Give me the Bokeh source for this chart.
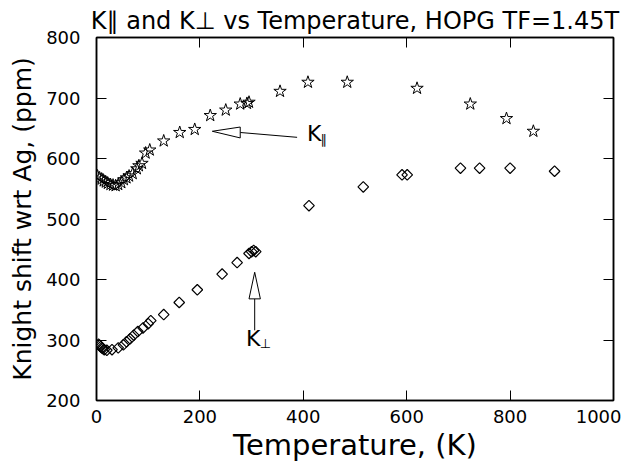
import math
from bokeh.plotting import figure
from bokeh.models import Range1d, FixedTicker, Label, LinearAxis
from bokeh.embed import file_html
from bokeh.resources import INLINE

# K parallel (stars)
t_par = [2, 6, 10, 14, 18, 22, 27, 32, 37, 42, 48, 53, 58, 63, 70, 78, 82, 88, 95, 103,
         130, 161, 190, 220, 250, 278, 291, 295, 355, 409, 485, 620, 723, 793, 845]
k_par = [571, 568, 566, 563, 561, 559, 557, 556, 555, 557, 560, 565, 568, 571, 575, 583, 588, 592, 609, 614,
         629, 643, 648, 671, 680, 690, 691, 693, 711, 726, 726, 716, 690, 666, 645]

# K perpendicular (diamonds)
t_perp = [4, 6, 8, 10, 12, 15, 20, 30, 42, 52, 58, 65, 72, 80, 90, 100, 105, 130, 160, 195,
          243, 272, 295, 300, 304, 308, 411, 516, 591, 601, 704, 741, 800, 886]
k_perp = [293, 291, 289, 287, 286, 284, 283, 284, 287, 292, 297, 302, 308, 314, 320, 327, 332, 342, 362, 383,
          409, 428, 443, 446, 448, 446, 522, 553, 573, 573, 584, 584, 584, 579]

x_ticks = [0, 200, 400, 600, 800, 1000]
y_ticks = [200, 300, 400, 500, 600, 700, 800]

title_text = "K\u2225 and K\u22a5 vs Temperature, HOPG TF=1.45T"
FONT = "DejaVu Sans"

p = figure(width=621, height=466, output_backend="svg", toolbar_location=None,
           x_range=Range1d(0, 1000), y_range=Range1d(200, 800),
           min_border_left=96, min_border_right=8, min_border_top=37, min_border_bottom=66)
p.title.text = title_text
p.title.text_font = FONT
p.title.text_font_size = "24px"
p.title.text_font_style = "normal"
p.title.text_color = "black"
p.title.align = "center"
p.title.standoff = 6
p.grid.visible = False
p.outline_line_color = "black"
p.outline_line_width = 1.5

for ax in [p.xaxis[0], p.yaxis[0]]:
    ax.major_tick_in = 10
    ax.major_tick_out = 0
    ax.minor_tick_in = 0
    ax.minor_tick_out = 0
    ax.axis_line_color = "black"
    ax.axis_line_width = 1.5
    ax.major_label_text_font = FONT
    ax.major_label_text_font_size = "18px"
    ax.major_label_text_color = "black"
    ax.axis_label_text_font = FONT
    ax.axis_label_text_font_style = "normal"
    ax.axis_label_text_color = "black"

p.xaxis.ticker = FixedTicker(ticks=x_ticks)
p.yaxis.ticker = FixedTicker(ticks=y_ticks)
p.xaxis.axis_label = "Temperature, (K)"
p.xaxis.axis_label_text_font_size = "29px"
p.xaxis.major_label_standoff = 9
p.xaxis.axis_label_standoff = 2
p.yaxis.axis_label = "Knight shift wrt Ag, (ppm)"
p.yaxis.axis_label_text_font_size = "25px"
p.yaxis.major_label_standoff = 16
p.yaxis.axis_label_standoff = 6

# ticks on top and right (from frame edges)
top = LinearAxis(ticker=FixedTicker(ticks=x_ticks),
                 major_label_overrides={t: "" for t in x_ticks},
                 major_tick_in=10, major_tick_out=0, minor_tick_in=0, minor_tick_out=0,
                 axis_line_color="black", axis_line_width=1.5)
right = LinearAxis(ticker=FixedTicker(ticks=y_ticks),
                   major_label_overrides={t: "" for t in y_ticks},
                   major_tick_in=10, major_tick_out=0, minor_tick_in=0, minor_tick_out=0,
                   axis_line_color="black", axis_line_width=1.5)
p.add_layout(top, "above")
p.add_layout(right, "right")

p.scatter(t_par, k_par, marker="star", size=13, fill_color="white", fill_alpha=0.0,
          line_color="black", line_width=1)
p.scatter(t_perp, k_perp, marker="square", angle=math.pi / 4, size=7.5, fill_color="white",
          fill_alpha=0.0, line_color="black", line_width=1.2)

# Annotation: K parallel arrow
par_tip = (224, 645)
par_tail = (388, 635)
par_head_len = 54   # in K
par_head_half = 9   # in ppm
p.line([par_tail[0], par_tip[0] + par_head_len], [par_tail[1], par_tip[1] - 2], line_color="black", line_width=1)
p.patch([par_tip[0], par_tip[0] + par_head_len, par_tip[0] + par_head_len],
        [par_tip[1], par_tip[1] + par_head_half - 2, par_tip[1] - par_head_half - 2],
        fill_color="white", line_color="black", line_width=1)
p.add_layout(Label(x=407, y=641, text="K", text_font=FONT, text_font_size="22px",
                   text_color="black", text_baseline="middle", text_align="left"))
p.add_layout(Label(x=433, y=632, text="\u2225", text_font=FONT, text_font_size="13px",
                   text_color="black", text_baseline="middle", text_align="left"))

# Annotation: K perp arrow
perp_tip = (306, 412)
perp_tail = (306, 316)
perp_head_len = 44  # ppm
perp_head_half = 11  # K
p.line([perp_tail[0], perp_tip[0]], [perp_tail[1], perp_tip[1] - perp_head_len], line_color="black", line_width=1)
p.patch([perp_tip[0], perp_tip[0] - perp_head_half, perp_tip[0] + perp_head_half],
        [perp_tip[1], perp_tip[1] - perp_head_len, perp_tip[1] - perp_head_len],
        fill_color="white", line_color="black", line_width=1)
p.add_layout(Label(x=289, y=302, text="K", text_font=FONT, text_font_size="22px",
                   text_color="black", text_baseline="middle", text_align="left"))
p.add_layout(Label(x=316, y=295, text="\u22a5", text_font=FONT, text_font_size="13px",
                   text_color="black", text_baseline="middle", text_align="left"))

open("out.html", "w").write(file_html(p, INLINE))
